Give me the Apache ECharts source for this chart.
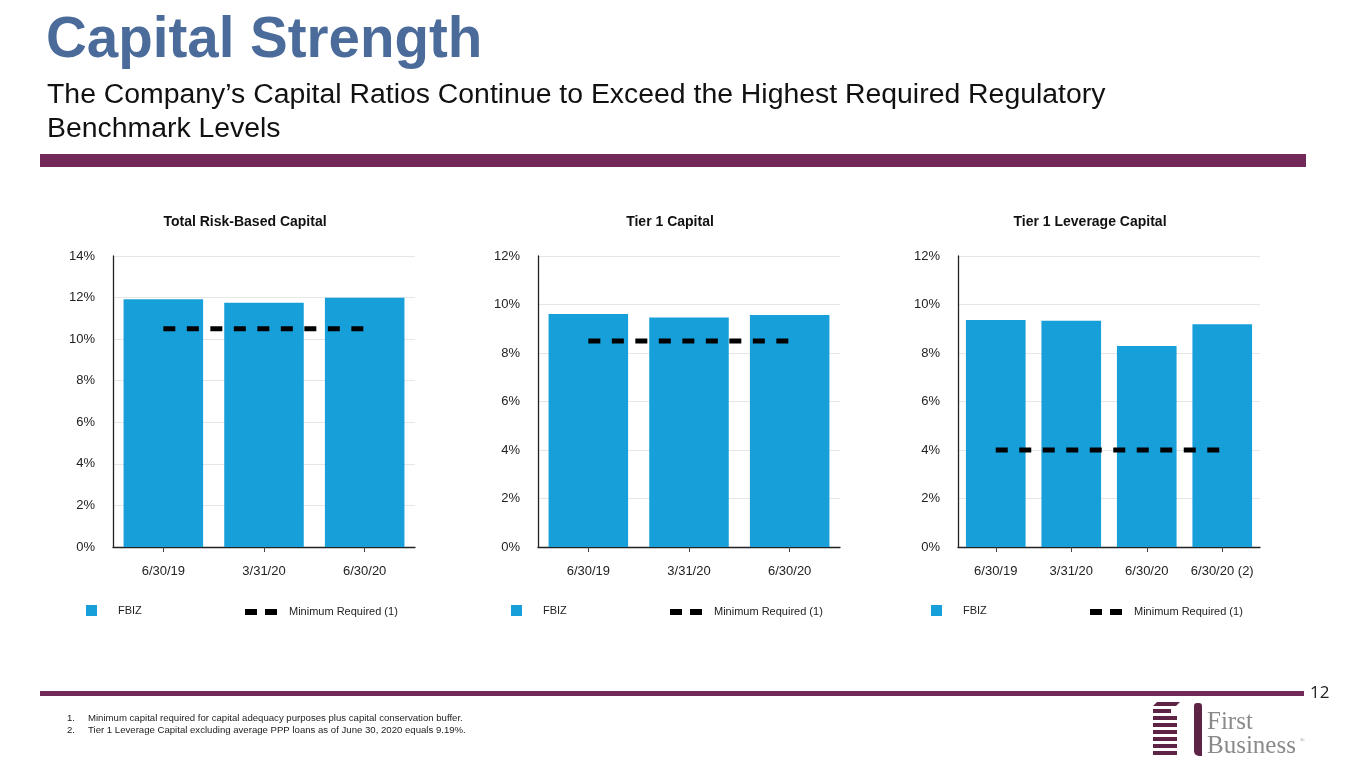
<!DOCTYPE html>
<html>
<head>
<meta charset="utf-8">
<script src="https://cdn.jsdelivr.net/npm/echarts@6/dist/echarts.min.js"></script>
<style>
html,body{margin:0;padding:0;background:#fff;}
#main{width:1365px;height:768px;}
</style>
</head>
<body>
<div id="main"></div>
<script>
// ---- data ----
const categoriesA = ['6/30/19', '3/31/20', '6/30/20'];
const categoriesB = ['6/30/19', '3/31/20', '6/30/20', '6/30/20 (2)'];
const fbizTotalRisk = [11.92, 11.75, 11.99];
const minTotalRisk = [10.5, 10.5, 10.5];
const fbizTier1 = [9.61, 9.46, 9.57];
const minTier1 = [8.5, 8.5, 8.5];
const fbizLeverage = [9.36, 9.33, 8.29, 9.19];
const minLeverage = [4, 4, 4, 4];
const chartTitles = ['Total Risk-Based Capital', 'Tier 1 Capital', 'Tier 1 Leverage Capital'];
const yMax = [14, 12, 12];
const seriesNames = ['FBIZ', 'Minimum Required (1)'];
const pageTitle = 'Capital Strength';
const subtitleLines = ['The Company\u2019s Capital Ratios Continue to Exceed the Highest Required Regulatory', 'Benchmark Levels'];
const footnotes = ['Minimum capital required for capital adequacy purposes plus capital conservation buffer.', 'Tier 1 Leverage Capital excluding average PPP loans as of June 30, 2020 equals 9.19%.'];
const pageNumber = '12';

// ---- layout ----
const FONT = '"Liberation Sans", Arial, sans-serif';
const BAR = '#169FD9';
const PURPLE = '#722858';
const grids = [
  {left: 113, top: 256, width: 302, height: 291},
  {left: 538, top: 256, width: 302, height: 291},
  {left: 958, top: 256, width: 302, height: 291}
];
const titleCenters = [245, 670, 1090];
const legendPos = [[86, 245], [511, 670], [931, 1090]];
const cats = [categoriesA, categoriesA, categoriesB];
const fbiz = [fbizTotalRisk, fbizTier1, fbizLeverage];
const mins = [minTotalRisk, minTier1, minLeverage];

const chart = echarts.init(document.getElementById('main'), null, {renderer: 'canvas'});

function txt(text, x, y, font, fill, align, vAlign) {
  return {
    type: 'text', x: x, y: y, silent: true,
    style: {text: text, font: font, fill: fill,
      align: align || 'left', verticalAlign: vAlign || 'middle',
      textAlign: align || 'left', textVerticalAlign: vAlign || 'middle'}
  };
}

const xAxes = [], yAxes = [], series = [], legends = [];
for (let i = 0; i < 3; i++) {
  xAxes.push({
    type: 'category', gridIndex: i, data: cats[i],
    axisLine: {lineStyle: {color: '#222', width: 1.3}},
    axisTick: {show: true, alignWithLabel: true, length: 5, lineStyle: {color: '#444'}},
    axisLabel: {fontSize: 13, color: '#222', fontFamily: FONT, margin: 18, interval: 0}
  });
  yAxes.push({
    type: 'value', gridIndex: i, min: 0, max: yMax[i], interval: 2,
    axisLine: {show: true, lineStyle: {color: '#222', width: 1.3}},
    axisTick: {show: false},
    splitLine: {lineStyle: {color: '#E6E6E6'}},
    axisLabel: {formatter: '{value}%', fontSize: 13, color: '#222', fontFamily: FONT, margin: 18}
  });
  series.push({
    name: seriesNames[0], type: 'bar', xAxisIndex: i, yAxisIndex: i,
    data: fbiz[i], barCategoryGap: '21%',
    itemStyle: {color: BAR}
  });
  series.push({
    name: seriesNames[1], type: 'line', xAxisIndex: i, yAxisIndex: i,
    data: mins[i], symbol: 'none', z: 5,
    itemStyle: {color: '#000'},
    lineStyle: {color: '#000', width: 5, type: [12, 11.5], cap: 'butt'}
  });
  legends.push({
    left: legendPos[i][0], top: 605, padding: 0, data: [seriesNames[0]],
    icon: 'rect', itemWidth: 11, itemHeight: 11, selectedMode: false,
    textStyle: {fontSize: 11, color: '#222', fontFamily: FONT, padding: [0, 0, 0, 16]}
  });
  legends.push({
    left: legendPos[i][1], top: 606.5, padding: 0, data: [seriesNames[1]],
    icon: 'path://M0,0H12V6H0Z M20,0H32V6H20Z', itemWidth: 32, itemHeight: 6, selectedMode: false,
    itemStyle: {color: '#000', borderWidth: 0},
    textStyle: {fontSize: 11, color: '#222', fontFamily: FONT, padding: [0, 0, 0, 7]}
  });
}

const graphics = [];
graphics.push(txt(pageTitle, 46, 41, 'bold 56.5px ' + FONT, '#4B6C9A'));
graphics.push(txt(subtitleLines[0], 47, 95, '28.4px ' + FONT, '#111'));
graphics.push(txt(subtitleLines[1], 47, 129, '28.4px ' + FONT, '#111'));
graphics.push({type: 'rect', silent: true, shape: {x: 40, y: 154, width: 1266, height: 13}, style: {fill: PURPLE}});
for (let i = 0; i < 3; i++) {
  graphics.push(txt(chartTitles[i], titleCenters[i], 222, 'bold 14px ' + FONT, '#111', 'center'));
}
graphics.push({type: 'rect', silent: true, shape: {x: 40, y: 691, width: 1264, height: 5}, style: {fill: PURPLE}});
graphics.push(txt(pageNumber, 1310, 693, '17px "Open Sans", ' + FONT, '#222'));
for (let i = 0; i < footnotes.length; i++) {
  graphics.push(txt((i + 1) + '.', 67, 718.5 + i * 12, '9.6px ' + FONT, '#222'));
  graphics.push(txt(footnotes[i], 88, 718.5 + i * 12, '9.6px ' + FONT, '#222'));
}
// logo
const LOGO = '#5E2446';
graphics.push({type: 'polygon', silent: true, shape: {points: [[1153, 706], [1157, 702], [1180, 702], [1176, 706]]}, style: {fill: LOGO}});
const stripeW = [18, 24, 24, 24, 24, 24, 24];
for (let k = 0; k < 7; k++) {
  graphics.push({type: 'rect', silent: true, shape: {x: 1153, y: 709 + k * 7, width: stripeW[k], height: 4}, style: {fill: LOGO}});
}
graphics.push({type: 'rect', silent: true, shape: {x: 1194, y: 703, width: 8, height: 53, r: [3, 3, 0, 5]}, style: {fill: LOGO}});
graphics.push(txt('First', 1207, 722, '25px "Liberation Serif", serif', '#8A8A8A'));
graphics.push(txt('Business', 1207, 746, '25px "Liberation Serif", serif', '#8A8A8A'));
graphics.push(txt('\u00AE', 1300, 740, '6px "Liberation Serif", serif', '#8A8A8A'));

chart.setOption({
  backgroundColor: '#fff',
  animation: false,
  grid: grids,
  xAxis: xAxes,
  yAxis: yAxes,
  legend: legends,
  series: series,
  graphic: graphics
});
</script>
</body>
</html>
